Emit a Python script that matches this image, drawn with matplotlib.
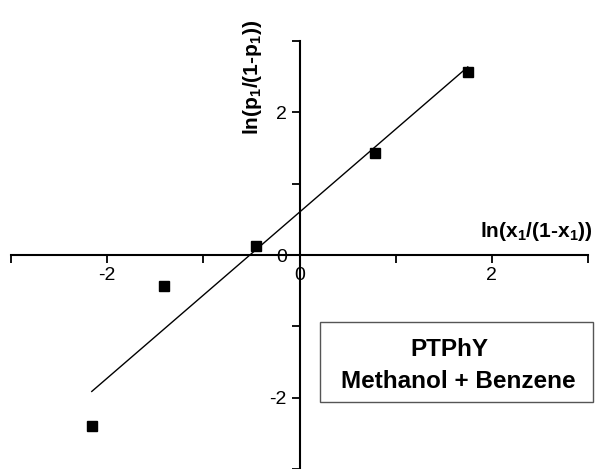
"""PTPhY plot: ln(p1/(1-p1)) against ln(x1/(1-x1)) for methanol + benzene."""

import matplotlib

matplotlib.use("Agg")
import matplotlib.pyplot as plt
import numpy as np
from matplotlib.patches import Rectangle

ln_x = [-2.16, -1.41, -0.45, 0.79, 1.75]
ln_p = [-2.40, -0.44, 0.12, 1.43, 2.57]

tick_pos = [-3, -2, -1, 0, 1, 2, 3]
tick_labels = ["", "-2", "", "0", "", "2", ""]

system_name = "PTPhY"
mixture = "Methanol + Benzene"

plt.rcParams["font.family"] = ["Liberation Sans", "DejaVu Sans"]
plt.rcParams["mathtext.fontset"] = "custom"
plt.rcParams["mathtext.rm"] = "Liberation Sans:bold"
plt.rcParams["mathtext.it"] = "Liberation Sans:bold"
plt.rcParams["mathtext.bf"] = "Liberation Sans:bold"

fig = plt.figure(figsize=(5.98, 4.69), dpi=100)
ax = fig.add_axes([11 / 598, 0.0, 577 / 598, 428 / 469])

x = np.array(ln_x)
y = np.array(ln_p)
ax.plot(x, y, "s", color="black", ms=6.5, clip_on=False, zorder=3)

# least-squares line over the span of the points
slope, intercept = np.polyfit(x, y, 1)
xs = np.array([x.min(), x.max()])
ax.plot(xs, slope * xs + intercept, color="black", lw=1.0)

ax.set_xlim(-3, 3)
ax.set_ylim(-3, 3)
for side in ("top", "right"):
    ax.spines[side].set_visible(False)
for side in ("left", "bottom"):
    ax.spines[side].set_position(("data", 0))
    ax.spines[side].set_linewidth(1.5)

ax.set_xticks(tick_pos)
ax.set_xticklabels(tick_labels)
ax.set_yticks(tick_pos)
ax.set_yticklabels(tick_labels)
ax.tick_params(direction="out", length=6, width=1.3, labelsize=14, pad=3)

ax.text(3.05, 0.25, r"ln(x$_1$/(1-x$_1$))", fontsize=15, fontweight="bold",
        ha="right", va="baseline")
ax.text(-0.49, 2.49, r"ln(p$_1$/(1-p$_1$))", fontsize=15, fontweight="bold",
        rotation=90, ha="center", va="center")

# legend-like box in the lower right quadrant
ax.add_patch(Rectangle((0.21, -2.06), 2.84, 1.12, fill=False,
                       edgecolor="#555555", lw=1.0, clip_on=False))
ax.text(1.56, -1.32, system_name, fontsize=17.5, fontweight="bold",
        ha="center", va="center")
ax.text(1.65, -1.77, mixture, fontsize=17.5, fontweight="bold",
        ha="center", va="center")

fig.savefig("out.png", dpi=100)
plt.close(fig)
